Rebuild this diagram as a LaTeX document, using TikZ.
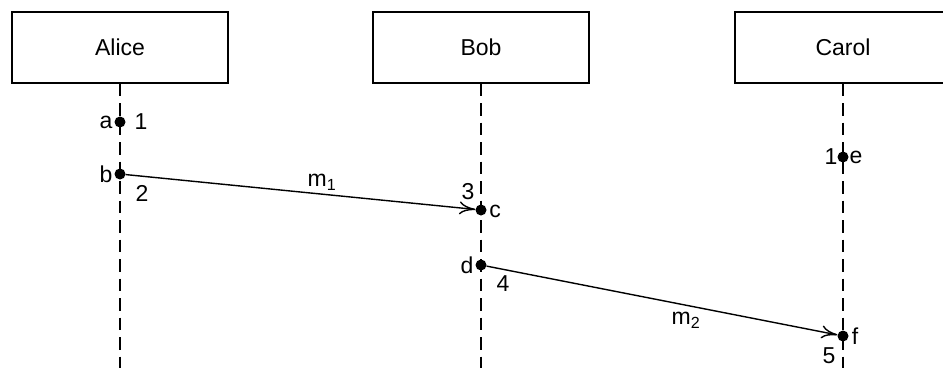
\documentclass[tikz,border=0pt]{standalone}
\usepackage{fontspec}
\setmainfont{Liberation Sans}
\usetikzlibrary{arrows.meta}
\begin{document}
\begin{tikzpicture}[x=1pt,y=-1pt,
  every node/.style={font=\fontsize{23}{26}\selectfont, inner sep=0pt},
  actor/.style={draw, line width=1.4pt, minimum width=216pt, minimum height=71pt},
  life/.style={line width=1.5pt, dash pattern=on 12.5pt off 7pt},
  ev/.style={circle, fill, minimum size=11pt, inner sep=0pt},
  msg/.style={line width=1.4pt, -{To[length=16pt,width=13pt,line width=1.4pt]}}]
\useasboundingbox (0,0) rectangle (943,368);
\node[actor] (alice) at (120,47.5) {Alice};
\node[actor] (bob) at (481,47.5) {Bob};
\node[actor] (carol) at (843,47.5) {Carol};
\coordinate (aliceEnd) at (120,368);
\coordinate (bobEnd) at (481,368);
\coordinate (carolEnd) at (843,368);
\draw[life] (alice.south) -- (aliceEnd);
\draw[life] (bob.south) -- (bobEnd);
\draw[life] (carol.south) -- (carolEnd);
\node[ev] (a) at (120,122) {};
\node[ev] (b) at (120,174) {};
\node[ev] (c) at (481,210) {};
\node[ev] (d) at (481,265) {};
\node[ev] (e) at (843,157) {};
\node[ev] (f) at (843,336) {};
\node (la) at (106,122) {a};
\node (na) at (141,122) {1};
\node (lb) at (106,174) {b};
\node (nb) at (142,193) {2};
\node (lc) at (495,211) {c};
\node (nc) at (468,192) {3};
\node (ld) at (467,265) {d};
\node (nd) at (503,284) {4};
\node (ne) at (831,157) {1};
\node (le) at (856,157) {e};
\node (lf) at (855,336) {f};
\node (nf) at (829,356) {5};
\node (m1) at (322,182) {m\textsubscript{1}};
\node (m2) at (686,320) {m\textsubscript{2}};
\draw[msg] (b) -- (c);
\draw[msg] (d) -- (f);
\end{tikzpicture}
\end{document}
